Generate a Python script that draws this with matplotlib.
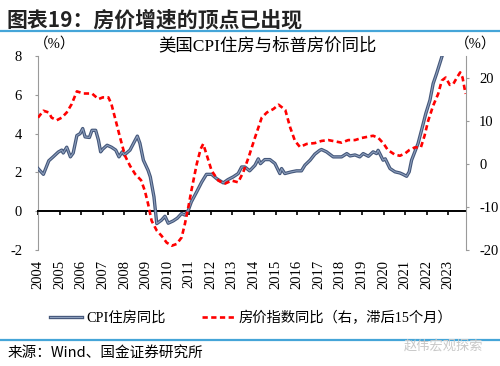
import matplotlib
matplotlib.use('Agg')
import matplotlib.pyplot as plt
import matplotlib.patheffects as pe
from matplotlib.lines import Line2D

plt.rcParams['font.family'] = ['Liberation Serif', 'Noto Sans CJK SC']
plt.rcParams['axes.unicode_minus'] = False

# CPI shelter yoy (left axis, %)
cpi_t = [2004.0, 2004.25, 2004.5, 2004.7, 2004.94, 2005.1, 2005.17, 2005.33, 2005.5, 2005.63,
         2005.8, 2005.95, 2006.07, 2006.18, 2006.38, 2006.5, 2006.67, 2006.8, 2006.9, 2007.0,
         2007.2, 2007.4, 2007.6, 2007.75, 2007.9, 2008.0, 2008.26, 2008.5, 2008.6, 2008.72,
         2008.88, 2009.1, 2009.2, 2009.37, 2009.5, 2009.72, 2009.88, 2010.03, 2010.26, 2010.45,
         2010.65, 2010.8, 2010.96, 2011.1, 2011.35, 2011.58, 2011.8, 2012.04, 2012.27, 2012.58,
         2012.8, 2013.04, 2013.27, 2013.43, 2013.58, 2013.8, 2014.05, 2014.2, 2014.3, 2014.5,
         2014.74, 2014.97, 2015.2, 2015.28, 2015.43, 2015.74, 2015.97, 2016.2, 2016.36, 2016.6,
         2016.82, 2017.05, 2017.13, 2017.36, 2017.67, 2018.06, 2018.3, 2018.45, 2018.68, 2018.9,
         2019.06, 2019.3, 2019.52, 2019.68, 2019.75, 2019.98, 2020.08, 2020.3, 2020.53, 2020.76,
         2020.9, 2021.07, 2021.19, 2021.3, 2021.45, 2021.6, 2021.76, 2021.96, 2022.15, 2022.3,
         2022.46, 2022.7]
cpi_v = [2.2, 1.9, 2.6, 2.8, 3.05, 3.15, 3.0, 3.3, 2.8, 3.0,
         3.9, 4.0, 4.26, 3.83, 3.8, 4.17, 4.17, 3.66, 3.06, 3.2,
         3.4, 3.3, 3.15, 2.8, 3.06, 2.9, 3.15, 3.66, 3.87, 3.5,
         2.63, 2.1, 1.77, 0.74, -0.64, -0.46, -0.26, -0.62, -0.5, -0.36,
         -0.12, -0.2, 0.05, 0.48, 1.0, 1.5, 1.9, 1.9, 1.68, 1.46,
         1.63, 1.77, 1.94, 2.28, 2.28, 2.08, 2.37, 2.7, 2.45, 2.66,
         2.66, 2.46, 1.94, 2.2, 1.94, 2.03, 2.08, 2.08, 2.37, 2.63,
         2.94, 3.14, 3.18, 3.06, 2.8, 2.8, 2.97, 2.85, 2.9, 2.8,
         2.97, 2.83, 3.06, 2.97, 3.14, 2.63, 2.7, 2.2, 2.03, 1.97,
         1.9, 1.8, 2.03, 2.63, 3.06, 3.49, 4.17, 5.04, 5.72, 6.58,
         7.1, 7.95]

# S&P house price yoy, lagged 15 months (right axis, %)
hpi_t = [2004.0, 2004.25, 2004.5, 2004.63, 2004.87, 2005.1, 2005.33, 2005.56, 2005.8, 2006.1,
         2006.5, 2006.8, 2007.0, 2007.26, 2007.4, 2007.6, 2007.8, 2008.03, 2008.26, 2008.5,
         2008.77, 2008.95, 2009.1, 2009.26, 2009.5, 2009.72, 2009.96, 2010.2, 2010.42, 2010.65,
         2010.8, 2010.96, 2011.1, 2011.35, 2011.53, 2011.65, 2011.8, 2012.04, 2012.35, 2012.66,
         2012.97, 2013.27, 2013.5, 2013.75, 2014.05, 2014.36, 2014.6, 2014.9, 2015.14, 2015.45,
         2015.68, 2015.9, 2016.13, 2016.44, 2016.82, 2017.13, 2017.44, 2017.75, 2018.06, 2018.37,
         2018.68, 2019.0, 2019.3, 2019.52, 2019.76, 2020.0, 2020.2, 2020.53, 2020.76, 2021.0,
         2021.2, 2021.45, 2021.73, 2021.9, 2022.07, 2022.3, 2022.53, 2022.7, 2022.88, 2023.07,
         2023.23, 2023.4, 2023.55, 2023.66, 2023.8]
hpi_v = [10.7, 12.3, 11.9, 10.7, 10.1, 10.7, 11.9, 13.85, 16.8, 16.3,
         16.3, 15.0, 15.4, 15.4, 13.85, 10.0, 6.1, 1.86, -0.46, -2.4,
         -3.8, -6.3, -9.35, -13.2, -15.5, -16.7, -18.3, -19.0, -18.6, -17.1,
         -14.0, -10.1, -6.3, -0.07, 3.4, 4.6, 2.25, -1.6, -3.9, -4.6,
         -3.9, -4.3, -2.0, 1.46, 6.1, 10.7, 11.9, 12.7, 13.7, 12.5,
         8.4, 5.3, 3.9, 4.6, 4.8, 5.3, 5.5, 5.2, 4.9, 5.5,
         5.5, 6.0, 6.3, 6.5, 6.0, 4.7, 3.2, 2.1, 1.86, 2.4,
         3.2, 3.8, 3.8, 6.5, 10.0, 13.5, 16.2, 19.3, 20.0, 18.3,
         18.5, 20.0, 21.2, 20.0, 16.2]

years = list(range(2004, 2024))
left_ticks = [-2, 0, 2, 4, 6, 8]
right_ticks = [-20, -10, 0, 10, 20]

fig = plt.figure(figsize=(5, 3.66), dpi=100)
ax = fig.add_axes([38 / 500, 1 - 250 / 366, 428 / 500, 194 / 366])
ax2 = ax.twinx()

blue_fx = [pe.Stroke(linewidth=2.4, foreground='#44577a'), pe.Normal()]
ax.plot(cpi_t, cpi_v, color='#8d9fbd', lw=0.8, path_effects=blue_fx, zorder=3)
ax2.plot(hpi_t, hpi_v, color='#ff0000', lw=1.9, dashes=(2.0, 1.3), zorder=3)

ax.set_xlim(2004.0, 2023.82)
ax.set_ylim(-2, 8)
ax.set_yticks(left_ticks)
ax2.set_ylim(-20, 25)
ax2.set_yticks(right_ticks)

# zero line acts as x axis
ax.spines['bottom'].set_position(('data', 0))
ax.spines['bottom'].set_color('black')
ax.spines['bottom'].set_linewidth(1.4)
ax.spines['top'].set_visible(False)
ax.spines['right'].set_visible(False)
ax.spines['left'].set_color('#9a9a9a')
ax.set_xticks(years)
ax.tick_params(axis='x', direction='out', length=3, width=1.2, color='black', labelbottom=False)
ax.tick_params(axis='y', direction='out', length=2.5, color='#9a9a9a', pad=9, labelsize=10.5)

for s in ['top', 'left', 'bottom']:
    ax2.spines[s].set_visible(False)
ax2.spines['right'].set_color('#9a9a9a')
ax2.tick_params(axis='y', direction='out', length=2.5, color='#9a9a9a', pad=7, labelsize=10.5)

sec = ax.secondary_xaxis('bottom')
sec.set_xticks(years)
sec.set_xticklabels([str(y) for y in years], rotation=90, fontsize=10.5)
sec.tick_params(length=0, pad=7)
sec.spines['bottom'].set_visible(False)

# header and footer
fig.text(0.012, 1 - 20 / 366, '图表19：房价增速的顶点已出现', fontsize=15, fontweight='bold',
         family=['Noto Sans CJK SC'], va='center', ha='left', color='#222222')
fig.add_artist(Line2D([0, 1], [1 - 31 / 366] * 2, color='#45a5d8', lw=1.6))
fig.add_artist(Line2D([0, 1], [1 - 340 / 366] * 2, color='#45a5d8', lw=1.6))
fig.text(267 / 500, 1 - 46 / 366, '美国CPI住房与标普房价同比', fontsize=12.5, ha='center', va='center')
fig.text(55 / 500, 1 - 44 / 366, '（%）', fontsize=10.5, ha='center', va='center')
fig.text(476 / 500, 1 - 44 / 366, '（%）', fontsize=10.5, ha='center', va='center')
fig.text(8 / 500, 1 - 353 / 366, '来源：Wind、国金证券研究所', fontsize=10.5,
         family=['Noto Sans CJK SC'], ha='left', va='center')
fig.text(483 / 500, 1 - 346 / 366, '赵伟宏观探索', fontsize=9.5, color='#c8c8c8',
         family=['Noto Sans CJK SC'], ha='right', va='center')

h1 = Line2D([], [], color='#8d9fbd', lw=0.8, path_effects=blue_fx)
h2 = Line2D([], [], color='#ff0000', lw=1.9, dashes=(2.0, 1.3))
fig.legend([h1, h2], ['CPI住房同比', '房价指数同比（右，滞后15个月）'], loc='center',
           bbox_to_anchor=(251 / 500, 1 - 318 / 366), ncol=2, frameon=False, fontsize=10.3,
           handlelength=2.2, handletextpad=0.3, columnspacing=2.6)

fig.savefig('out.png', dpi=100)
